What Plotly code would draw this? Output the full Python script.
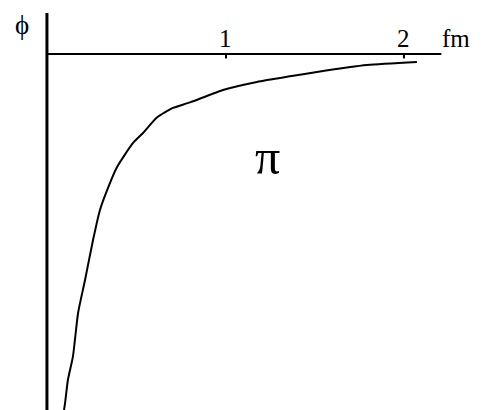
import plotly.graph_objects as go

# distance r (fm) and potential phi (arbitrary units, same scale as r)
r_fm = [0.090, 0.096, 0.112, 0.140, 0.169, 0.208, 0.253, 0.292, 0.340, 0.388, 0.478, 0.534,
        0.612, 0.702, 0.798, 0.983, 1.174, 1.370, 1.511, 1.792, 2.073]
phi = [-2.00, -1.96, -1.83, -1.70, -1.455, -1.27, -1.045, -0.876, -0.745, -0.635, -0.500, -0.444,
       -0.357, -0.303, -0.272, -0.202, -0.157, -0.124, -0.101, -0.062, -0.045]
tick_vals = [1, 2]
tick_labels = ["1", "2"]

fig = go.Figure()
fig.add_trace(go.Scatter(x=r_fm, y=phi, mode="lines",
                         line=dict(color="black", width=2, shape="spline", smoothing=0.6),
                         hoverinfo="skip", showlegend=False))

font = "Liberation Serif, Times New Roman, serif"
shapes = [
    dict(type="line", x0=-0.006, x1=-0.006, y0=-2.1, y1=0.23, line=dict(color="black", width=3)),
    dict(type="line", x0=-0.006, x1=2.21, y0=0, y1=0, line=dict(color="black", width=2)),
]
for tv in tick_vals:
    shapes.append(dict(type="line", x0=tv, x1=tv, y0=0, y1=-0.025, line=dict(color="black", width=2)))

annotations = []
for tv, tl in zip(tick_vals, tick_labels):
    annotations.append(dict(x=tv, y=0.0, text=tl, showarrow=False, yanchor="bottom",
                            font=dict(family=font, size=25, color="black")))
annotations += [
    dict(x=2.29, y=0.0, text="fm", showarrow=False, yanchor="bottom",
         font=dict(family=font, size=25, color="black")),
    dict(x=-0.146, y=0.165, text="ϕ", showarrow=False, yanchor="middle",
         font=dict(family=font, size=27, color="black")),
    dict(x=1.236, y=-0.58, text="π", showarrow=False,
         font=dict(family=font, size=50, color="black")),
]

fig.update_layout(
    width=486, height=410,
    margin=dict(l=0, r=0, t=0, b=0),
    paper_bgcolor="white", plot_bgcolor="white",
    xaxis=dict(range=[-0.2248, 2.506], visible=False, fixedrange=True),
    yaxis=dict(range=[-2.045, 0.2584], visible=False, fixedrange=True),
    shapes=shapes, annotations=annotations,
)
fig.write_html("out.html")
